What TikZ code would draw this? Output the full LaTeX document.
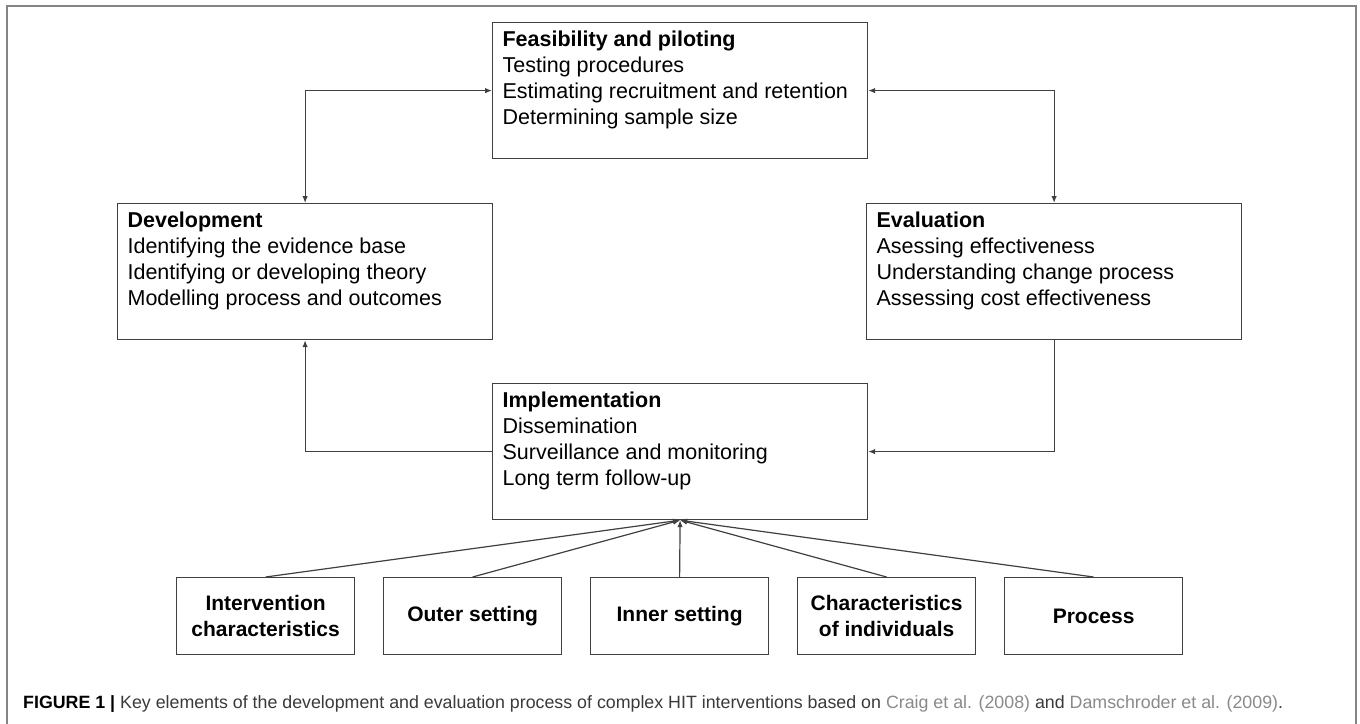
\documentclass[tikz,border=0pt]{standalone}
\usepackage{fontspec}
\setmainfont{Liberation Sans}
\usetikzlibrary{arrows.meta}
\definecolor{linec}{HTML}{404040}
\definecolor{framec}{HTML}{858585}
\definecolor{capc}{HTML}{3A3A3A}
\definecolor{linkc}{HTML}{8A8A8A}
\newcommand\stagetxt[4]{\parbox[c][136pt][t]{355pt}{\fontsize{21.5}{25.8}\selectfont\rule{0pt}{24pt}\textbf{#1}\\#2\\#3\\#4}}
\begin{document}
\begin{tikzpicture}[x=1pt,y=-1pt,
  stagebox/.style={draw=linec, line width=1.2pt, inner sep=0pt, anchor=north west, minimum width=375pt, minimum height=136pt},
  factorbox/.style={draw=linec, line width=1.2pt, inner sep=0pt, anchor=north west, minimum width=178pt, minimum height=77pt, align=center, font=\fontsize{21}{26.5}\selectfont\bfseries},
  conn/.style={draw=linec, line width=1.2pt},
  tip/.style={-{Latex[length=7pt,width=5.5pt]}},
  tips/.style={{Latex[length=7pt,width=5.5pt]}-{Latex[length=7pt,width=5.5pt]}}
]
\useasboundingbox (0,0) rectangle (1360,723);
\fill[white] (0,0) rectangle (1360,723);
\draw[framec, line width=2pt] (7,740) -- (7,6) -- (1356,6) -- (1356,740);

\node[stagebox] (feas) at (492,22) {\stagetxt{Feasibility and piloting}{Testing procedures}{Estimating recruitment and retention}{Determining sample size}};
\node[stagebox] (dev) at (117,203) {\stagetxt{Development}{Identifying the evidence base}{Identifying or developing theory}{Modelling process and outcomes}};
\node[stagebox] (eval) at (866,203) {\stagetxt{Evaluation}{Asessing effectiveness}{Understanding change process}{Assessing cost effectiveness}};
\node[stagebox] (impl) at (492,383) {\stagetxt{Implementation}{Dissemination}{Surveillance and monitoring}{Long term follow-up}};

\node[factorbox] (f1) at (176,577) {Intervention\\characteristics};
\node[factorbox] (f2) at (383,577) {Outer setting};
\node[factorbox] (f3) at (590,577) {Inner setting};
\node[factorbox] (f4) at (797,577) {Characteristics\\of individuals};
\node[factorbox] (f5) at (1004,577) {Process};

\draw[conn, tips] (dev.north) |- (feas.west);
\draw[conn, tips] (feas.east) -| (eval.north);
\draw[conn, tip] (eval.south) |- (impl.east);
\draw[conn, tip] (impl.west) -| (dev.south);
\foreach \f in {f1,f2,f3,f4,f5} \draw[conn, tip] (\f.north) -- (impl.south);

\node[anchor=base west, inner sep=0pt, font=\fontsize{17.8}{21}\selectfont, text=capc] (cap) at (23,708) {{\bfseries\color{black}FIGURE 1 |} Key elements of the development and evaluation process of complex HIT interventions based on {\color{linkc}Craig et al. (2008)} and {\color{linkc}Damschroder et al. (2009)}.};
\end{tikzpicture}
\end{document}
